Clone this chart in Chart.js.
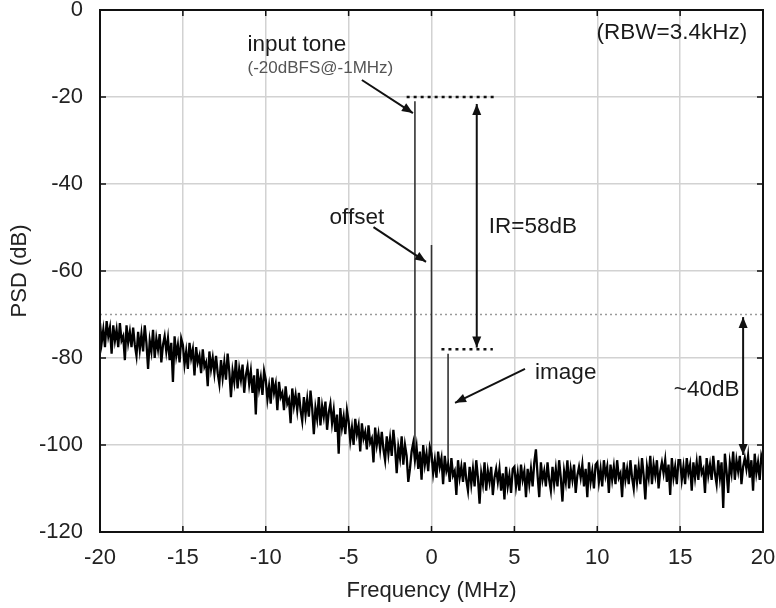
<!DOCTYPE html>
<html>
<head>
<meta charset="utf-8">
<script src="https://cdn.jsdelivr.net/npm/chart.js@4.4.1/dist/chart.umd.min.js"></script>
<style>
  html, body { margin: 0; padding: 0; background: #fff; }
  canvas { display: block; }
</style>
</head>
<body>
<canvas id="psdChart" width="776" height="608"></canvas>
<script>
// measured PSD, one reading every 0.1 MHz from -20 MHz up to +20 MHz
const freqStart = -20;
const freqStep = 0.1;
const psdValues = [
  -72, -76.5, -73.5, -77.5, -71.5, -75, -73, -79, -72.5, -76,
  -73.5, -77.5, -72, -76, -75, -80.5, -72.5, -76.5, -74, -77.5,
  -73, -77, -79.5, -74, -78, -74.5, -78.5, -72.5, -76.5, -82.5,
  -76, -78.5, -73.5, -80, -75.5, -78, -74.5, -81, -77, -75,
  -78.5, -75.5, -80.5, -76.5, -85.5, -75, -79.5, -77, -81, -75.5,
  -77, -81.5, -78.5, -82.5, -76.5, -80, -78, -84, -77.5, -81,
  -79.5, -83.5, -78, -82, -81, -86.5, -78.5, -82.5, -80, -83.5,
  -79.5, -83.5, -86, -80.5, -84.5, -81, -85, -79, -83, -89,
  -83, -85.5, -80.5, -87, -82.5, -85, -81.5, -88, -84, -82,
  -86, -83, -88, -84, -93, -82.5, -87, -84.5, -88.5, -83,
  -85, -89.5, -86.5, -90.5, -84.5, -88, -86, -92, -85.5, -89,
  -88, -92, -86.5, -90.5, -89.5, -95, -87, -91, -88.5, -92,
  -88, -92, -94.5, -89, -93, -89.5, -93.5, -87.5, -91.5, -97.5,
  -91.5, -94, -89, -95.5, -91, -93.5, -90, -96.5, -92.5, -90.5,
  -95, -92, -97, -93, -102, -91.5, -96, -93.5, -97.5, -92,
  -94.5, -99, -96, -100, -94, -97.5, -95.5, -101.5, -95, -98.5,
  -97, -101, -95.5, -99.5, -98.5, -104, -96, -100, -97.5, -101,
  -97, -101, -103.5, -98, -102, -98.5, -102.5, -96.5, -100.5, -106.5,
  -100.5, -103, -98, -104.5, -100, -102.5, -108.5, -105.5, -101.5, -99.5,
  -103.5, -100.5, -105.5, -101.5, -108, -100, -104.5, -102, -106, -100.5,
  -102, -106.5, -103.5, -107.5, -101.5, -105, -103, -109, -102.5, -106,
  -104.5, -108.5, -103, -107, -106, -111.5, -103.5, -107.5, -105, -108.5,
  -104, -108, -110.5, -105, -109, -105.5, -109.5, -103.5, -107.5, -113.5,
  -106.5, -109, -104, -110.5, -106, -108.5, -105, -111.5, -107.5, -105.5,
  -108.5, -105.5, -110.5, -106.5, -112.5, -105, -109.5, -107, -111, -105.5,
  -105, -109.5, -106.5, -110.5, -104.5, -108, -106, -112, -105.5, -109,
  -105.5, -109.5, -104, -101, -107, -112, -104, -108, -106, -109.5,
  -104, -108, -110.5, -105, -109, -105.5, -109.5, -103.5, -107.5, -113,
  -106, -108.5, -103.5, -110, -105.5, -108, -104.5, -111, -107, -105,
  -107.5, -104.5, -109.5, -105.5, -112, -104, -108.5, -106, -110, -104.5,
  -104, -108.5, -105.5, -109.5, -103.5, -107, -105, -111, -104.5, -108,
  -105, -109, -103.5, -107.5, -106.5, -112, -104, -108, -105.5, -109,
  -103.5, -107.5, -110, -104.5, -108.5, -105, -109, -103, -107, -112.5,
  -105, -107.5, -102.5, -109, -104.5, -107, -103.5, -110, -106, -104,
  -106.5, -103.5, -108.5, -104.5, -111.5, -103, -107.5, -105, -109, -103.5,
  -103.5, -108, -105, -109, -103, -106.5, -104.5, -110.5, -104, -107.5,
  -104, -108, -102.5, -106.5, -105.5, -111, -103, -107, -104.5, -108,
  -102.5, -106.5, -109, -103.5, -107.5, -104, -114.5, -102, -106, -111,
  -104, -106.5, -101.5, -108, -103.5, -106, -102.5, -109, -105, -103,
  -105.5, -102.5, -107.5, -103.5, -110.5, -102, -106.5, -104, -108, -102.5,
  -104
];

// input tone, DC offset and image spurs
const toneFreq = [-1, 0, 1];
const toneTop = [-21, -54, -79];
const toneBase = [-103, -104, -106];

// reference levels
const floorRefLevel = -70;
const toneRefLevel = -20;
const toneRefSpan = [-1.5, 3.8];
const imageRefLevel = -78;
const imageRefSpan = [0.6, 3.7];

const psdPoints = psdValues.map((v, i) => ({ x: freqStart + i * freqStep, y: v }));
const tonePoints = [];
toneFreq.forEach((f, i) => {
  tonePoints.push({ x: f, y: toneBase[i] }, { x: f, y: toneTop[i] }, { x: f, y: null });
});

const FONT = "'Liberation Sans', Arial, sans-serif";

// annotation arrows and labels (in data units)
const arrows = [
  { from: [-4.2, -16.1], to: [-1.12, -23.7], both: false },
  { from: [-3.5, -49.9], to: [-0.33, -57.9], both: false },
  { from: [5.64, -82.5], to: [1.42, -90.3], both: false },
  { from: [2.73, -77.6], to: [2.73, -21.6], both: true },
  { from: [18.8, -102.3], to: [18.8, -70.6], both: true }
];
const labels = [
  { text: 'input tone', x: -11.1, y: -8.0, size: 22.5, color: '#1a1a1a', align: 'left' },
  { text: '(-20dBFS@-1MHz)', x: -11.1, y: -13.3, size: 17, color: '#555', align: 'left' },
  { text: 'offset', x: -4.5, y: -47.8, size: 22.5, color: '#1a1a1a', align: 'center' },
  { text: 'IR=58dB', x: 6.12, y: -49.9, size: 22.5, color: '#1a1a1a', align: 'center' },
  { text: 'image', x: 8.1, y: -83.4, size: 22.5, color: '#1a1a1a', align: 'center' },
  { text: '~40dB', x: 16.6, y: -87.4, size: 22.5, color: '#1a1a1a', align: 'center' },
  { text: '(RBW=3.4kHz)', x: 14.5, y: -5.3, size: 22.5, color: '#1a1a1a', align: 'center' }
];

function drawArrowHead(ctx, x1, y1, x2, y2) {
  const ang = Math.atan2(y2 - y1, x2 - x1);
  const len = 11, half = 4.5;
  ctx.beginPath();
  ctx.moveTo(x2, y2);
  ctx.lineTo(x2 - len * Math.cos(ang) + half * Math.sin(ang), y2 - len * Math.sin(ang) - half * Math.cos(ang));
  ctx.lineTo(x2 - len * Math.cos(ang) - half * Math.sin(ang), y2 - len * Math.sin(ang) + half * Math.cos(ang));
  ctx.closePath();
  ctx.fill();
}

const annotationPlugin = {
  id: 'psdAnnotations',
  afterDatasetsDraw(chart) {
    const { ctx, chartArea: a, scales: { x, y } } = chart;
    ctx.save();

    // frame + inward ticks
    ctx.strokeStyle = '#111';
    ctx.lineWidth = 2;
    ctx.strokeRect(a.left, a.top, a.right - a.left, a.bottom - a.top);
    ctx.lineWidth = 1.5;
    ctx.beginPath();
    x.ticks.forEach(t => {
      const px = x.getPixelForValue(t.value);
      ctx.moveTo(px, a.bottom); ctx.lineTo(px, a.bottom - 6);
      ctx.moveTo(px, a.top); ctx.lineTo(px, a.top + 6);
    });
    y.ticks.forEach(t => {
      const py = y.getPixelForValue(t.value);
      ctx.moveTo(a.left, py); ctx.lineTo(a.left + 6, py);
      ctx.moveTo(a.right, py); ctx.lineTo(a.right - 6, py);
    });
    ctx.stroke();

    // arrows
    ctx.strokeStyle = '#111';
    ctx.fillStyle = '#111';
    ctx.lineWidth = 2;
    arrows.forEach(ar => {
      const x1 = x.getPixelForValue(ar.from[0]), y1 = y.getPixelForValue(ar.from[1]);
      const x2 = x.getPixelForValue(ar.to[0]), y2 = y.getPixelForValue(ar.to[1]);
      ctx.beginPath();
      ctx.moveTo(x1, y1);
      ctx.lineTo(x2, y2);
      ctx.stroke();
      drawArrowHead(ctx, x1, y1, x2, y2);
      if (ar.both) drawArrowHead(ctx, x2, y2, x1, y1);
    });

    // text
    ctx.textBaseline = 'middle';
    labels.forEach(l => {
      ctx.font = l.size + 'px ' + FONT;
      ctx.fillStyle = l.color;
      ctx.textAlign = l.align;
      ctx.fillText(l.text, x.getPixelForValue(l.x), y.getPixelForValue(l.y));
    });
    ctx.restore();
  }
};

new Chart(document.getElementById('psdChart'), {
  type: 'line',
  data: {
    datasets: [
      {
        label: 'PSD',
        data: psdPoints,
        borderColor: '#000',
        borderWidth: 2.3,
        pointRadius: 0,
        tension: 0
      },
      {
        label: 'tones',
        data: tonePoints,
        borderColor: '#333',
        borderWidth: 1.6,
        pointRadius: 0,
        spanGaps: false
      },
      {
        label: 'floor ref',
        data: [{ x: freqStart, y: floorRefLevel }, { x: 20, y: floorRefLevel }],
        borderColor: '#9a9a9a',
        borderWidth: 1.5,
        borderDash: [2, 3],
        pointRadius: 0
      },
      {
        label: 'tone ref',
        data: toneRefSpan.map(f => ({ x: f, y: toneRefLevel })),
        borderColor: '#111',
        borderWidth: 2.5,
        borderDash: [3, 4],
        pointRadius: 0
      },
      {
        label: 'image ref',
        data: imageRefSpan.map(f => ({ x: f, y: imageRefLevel })),
        borderColor: '#111',
        borderWidth: 2.5,
        borderDash: [3, 4],
        pointRadius: 0
      }
    ]
  },
  options: {
    responsive: false,
    animation: false,
    devicePixelRatio: 1,
    layout: { padding: { top: 10, right: 13, left: 0, bottom: 0 } },
    plugins: {
      legend: { display: false },
      tooltip: { enabled: false }
    },
    scales: {
      x: {
        type: 'linear',
        min: -20,
        max: 20,
        afterFit: s => { s.height = 76; s.paddingLeft = 0; s.paddingRight = 0; },
        ticks: {
          stepSize: 5,
          padding: 13,
          color: '#222',
          font: { family: FONT, size: 22 }
        },
        grid: { color: '#d2d2d2', lineWidth: 1.5, drawTicks: false },
        border: { display: false },
        title: {
          display: true,
          text: 'Frequency (MHz)',
          color: '#222',
          font: { family: FONT, size: 22 },
          padding: { top: 0, bottom: 4 }
        }
      },
      y: {
        type: 'linear',
        min: -120,
        max: 0,
        afterFit: s => { s.width = 100; s.paddingTop = 0; s.paddingBottom = 0; },
        ticks: {
          stepSize: 20,
          padding: 17,
          color: '#222',
          font: { family: FONT, size: 22 }
        },
        grid: { color: '#d2d2d2', lineWidth: 1.5, drawTicks: false },
        border: { display: false },
        title: {
          display: true,
          text: 'PSD (dB)',
          color: '#222',
          font: { family: FONT, size: 22 },
          padding: { top: 7, bottom: 0 }
        }
      }
    }
  },
  plugins: [annotationPlugin]
});
</script>
</body>
</html>
